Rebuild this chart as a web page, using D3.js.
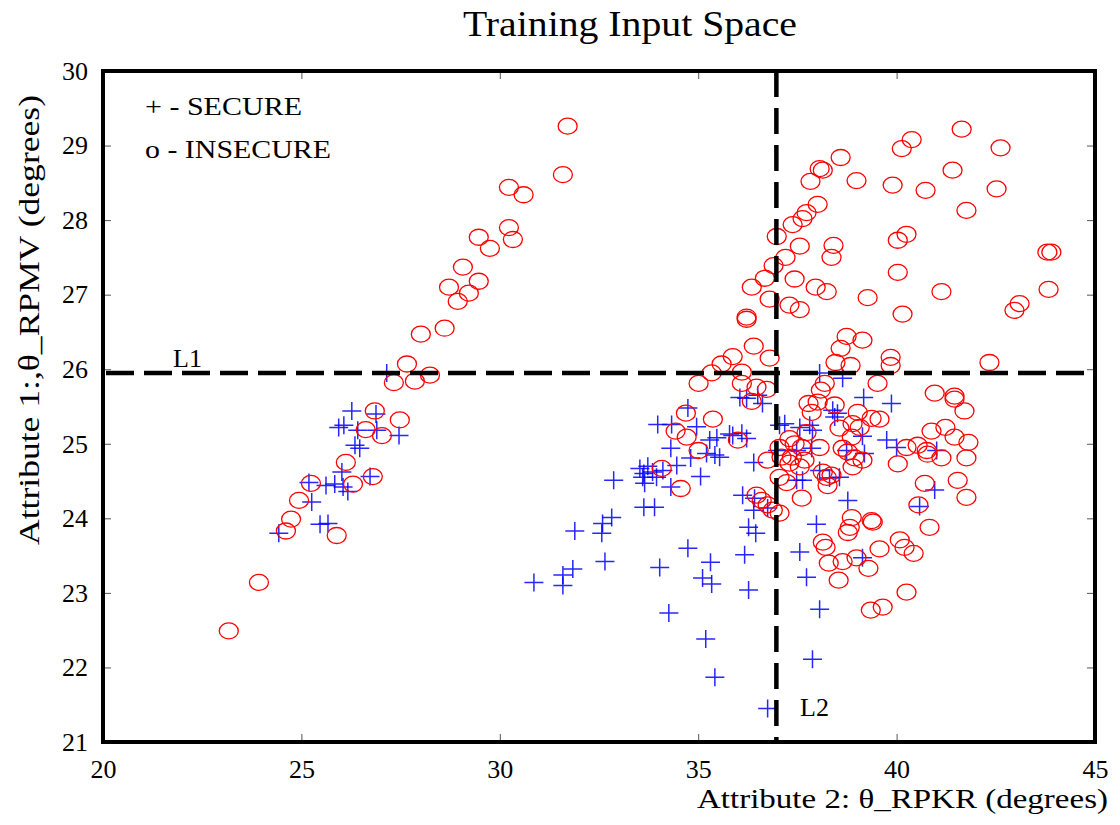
<!DOCTYPE html>
<html>
<head>
<meta charset="utf-8">
<script src="https://cdn.jsdelivr.net/npm/d3@7"></script>
<style>
  html, body { margin: 0; padding: 0; background: #fff; }
  svg { display: block; }
  text { font-family: "Liberation Serif", "Times New Roman", serif; fill: #000; }
</style>
</head>
<body>
<svg id="chart" width="1120" height="825"></svg>
<script>
// ---- data ----
const chartTitle = "Training Input Space";
const xLabel = "Attribute 2: \u03B8_RPKR (degrees)";
const yLabel = "Attribute 1:,\u03B8_RPMV (degrees)";
const xTicks = [20, 25, 30, 35, 40, 45];
const yTicks = [21, 22, 23, 24, 25, 26, 27, 28, 29, 30];
const lineL1 = 25.95;   // horizontal boundary (theta_RPMV)
const lineL2 = 36.97;   // vertical boundary (theta_RPKR)
const legendLabels = ["+ - SECURE", "o - INSECURE"];

// SECURE points [theta_RPKR, theta_RPMV]
const secure = [
  [27.15,25.95],[26.27,25.44],[26.88,25.40],[25.94,25.22],[26.07,25.25],[26.42,25.18],[26.90,25.18],
  [27.46,25.11],[26.35,24.98],[26.47,24.94],[26.02,24.62],[26.73,24.56],[25.19,24.48],[25.62,24.44],
  [25.84,24.46],[26.05,24.42],[26.17,24.36],[25.26,24.22],[25.47,23.92],[25.67,23.93],[24.43,23.80],
  [30.86,23.14],[31.59,23.24],[31.84,23.32],[31.59,23.10],[31.89,23.83],[32.59,23.93],[32.82,24.01],
  [32.57,23.80],[32.65,23.42],[32.87,24.51],[33.63,24.15],[33.90,24.15],[34.03,23.34],[34.26,22.73],
  [34.74,23.60],[35.31,23.41],[35.11,23.20],[35.34,23.12],[35.19,22.38],[35.42,21.87],[36.75,21.45],
  [36.17,23.51],[36.27,23.04],[36.27,23.88],[36.45,23.80],[36.40,24.11],[36.40,24.75],
  [35.06,24.56],[34.31,24.42],[34.31,24.94],[33.98,25.26],[34.33,25.26],[34.74,25.48],[34.96,25.23],
  [34.81,24.81],[33.53,24.67],[33.63,24.60],[33.73,24.70],[33.85,24.62],[33.60,24.55],[33.65,24.47],
  [33.95,24.55],[34.11,24.64],[34.46,24.71],[35.29,25.05],[35.47,25.08],[35.21,24.87],[35.42,24.85],
  [35.54,24.82],[35.79,25.13],[36.10,25.14],[36.22,25.07],[36.22,25.61],[36.50,25.65],[36.62,25.54],
  [36.05,25.62],[38.06,25.95],[38.64,25.88],[38.39,25.45],[38.51,25.41],[38.44,25.36],[39.17,25.62],
  [39.87,25.54],[37.18,25.27],[37.05,25.25],[37.56,25.22],[37.81,25.25],[37.88,25.18],[35.87,25.11],
  [39.14,25.10],[37.00,24.91],[37.48,24.91],[37.86,24.94],[38.74,24.91],[39.75,25.05],[40.00,24.95],
  [39.19,24.87],[41.01,24.91],[37.48,24.51],[37.63,24.51],[38.31,24.54],[38.56,24.55],[38.06,24.64],
  [36.12,24.31],[36.42,24.27],[36.75,24.14],[38.77,24.24],[37.98,23.92],[37.56,23.55],[37.73,23.21],
  [38.06,22.78],[37.88,22.11],[39.14,23.47],[40.96,24.38],[40.58,24.16]
];

// INSECURE points [theta_RPKR, theta_RPMV]
const insecure = [
  [23.17,22.49],[23.93,23.14],[24.61,23.83],[24.74,23.99],[24.94,24.24],[25.24,24.47],[25.89,23.77],
  [26.12,24.75],[26.30,24.46],[26.80,24.56],[26.62,25.19],[26.85,25.44],[27.03,25.11],[27.48,25.32],
  [27.33,25.82],[27.66,26.07],[27.86,25.84],[28.24,25.92],
  [31.71,29.26],[31.59,28.61],[30.23,28.44],[30.60,28.34],[30.23,27.90],[30.33,27.74],[29.47,27.77],
  [29.75,27.62],[29.07,27.37],[29.47,27.18],[28.72,27.10],[29.22,27.02],[28.94,26.91],[28.61,26.55],
  [28.01,26.47],
  [41.64,29.22],[40.38,29.08],[40.13,28.96],[42.62,28.97],[38.59,28.84],[38.06,28.69],[38.14,28.67],
  [37.83,28.52],[38.99,28.53],[39.90,28.47],[40.73,28.40],[41.41,28.67],[42.52,28.42],[41.76,28.13],
  [38.01,28.21],[37.73,28.10],[37.63,28.02],[37.38,27.94],[36.98,27.78],[37.56,27.65],[38.41,27.66],
  [38.36,27.50],[40.25,27.81],[40.03,27.73],[37.20,27.50],[36.90,27.39],[36.68,27.22],[37.43,27.21],
  [36.35,27.10],[36.80,26.94],[37.96,27.10],[38.24,27.04],[39.27,26.96],[40.03,27.30],[41.13,27.04],
  [43.80,27.57],[43.90,27.57],[43.83,27.07],[43.10,26.88],[42.97,26.79],[40.15,26.74],[37.30,26.86],
  [37.56,26.80],[36.22,26.70],[36.22,26.67],[38.74,26.44],[39.14,26.39],[38.59,26.28],[36.40,26.31],
  [36.80,26.15],[35.87,26.17],[35.59,26.07],[35.34,25.95],[36.10,25.96],[35.01,25.81],[36.10,25.81],
  [38.46,26.09],[38.84,26.05],[39.85,26.16],[39.85,26.05],[42.34,26.09],[39.52,25.81],[40.96,25.68],
  [41.46,25.64],[41.46,25.60],[41.71,25.44],[38.19,25.81],[38.09,25.72],[36.47,25.76],[36.73,25.73],
  [36.35,25.57],[37.78,25.54],[38.01,25.56],[38.44,25.52],[37.86,25.42],[39.02,25.42],[39.37,25.34],
  [38.89,25.27],[38.56,25.21],[39.07,25.22],[38.87,25.09],[37.73,25.15],[37.30,25.07],[37.43,25.00],
  [37.05,24.95],[37.61,24.95],[38.06,24.95],[38.64,24.94],[38.77,24.89],[38.94,24.81],[36.00,25.05],
  [36.75,24.78],[37.10,24.82],[37.36,24.82],[37.30,24.74],[37.68,24.78],[37.56,24.69],[38.89,24.69],
  [37.05,24.55],[37.23,24.48],[38.14,24.62],[38.24,24.55],[38.36,24.58],[38.26,24.44],[37.61,24.27],
  [36.47,24.31],[36.60,24.24],[36.75,24.18],[36.88,24.11],[37.05,24.07],[38.87,24.01],[39.37,23.97],
  [38.82,23.88],[39.57,25.33],[40.88,25.17],[41.23,25.22],[41.46,25.09],[41.81,25.02],[40.25,24.95],
  [40.53,24.98],[40.76,24.91],[40.78,24.86],[41.13,24.81],[41.76,24.81],[40.03,24.73],[39.14,24.78],
  [40.71,24.47],[41.54,24.51],[41.76,24.28],[40.55,24.18],[39.40,23.95],[40.83,23.88],[38.77,23.81],
  [38.14,23.68],[38.21,23.61],[38.29,23.40],[38.64,23.42],[38.99,23.47],[39.29,23.33],[39.57,23.59],
  [40.08,23.71],[40.20,23.61],[40.43,23.53],[38.54,23.17],[40.25,23.01],[39.35,22.77],[39.65,22.81],
  [34.69,25.41],[35.37,25.33],[34.43,25.17],[34.71,25.09],[35.01,24.91],[34.08,24.67],[34.56,24.40]
];

// ---- layout ----
const svg = d3.select("#chart");
const plotLeft = 103, plotRight = 1095, plotTop = 71, plotBottom = 742;
const x = d3.scaleLinear().domain([20, 45]).range([plotLeft, plotRight]);
const y = d3.scaleLinear().domain([21, 30]).range([plotBottom, plotTop]);

// title
svg.append("text").attr("x", 630).attr("y", 36).attr("text-anchor", "middle")
  .attr("font-size", 36).attr("textLength", 334).attr("lengthAdjust", "spacingAndGlyphs")
  .text(chartTitle);

// axes with inward ticks
const tickStyle = g => {
  g.select(".domain").remove();
  g.selectAll(".tick line").attr("stroke", "#555").attr("stroke-width", 1);
  g.selectAll(".tick text").attr("font-family", "Liberation Serif, serif").attr("font-size", 26).attr("fill", "#000");
};
svg.append("g").attr("transform", `translate(0,${plotBottom})`)
  .call(d3.axisBottom(x).tickValues(xTicks).tickFormat(d3.format("d")).tickSize(-8).tickPadding(18))
  .call(tickStyle);
svg.append("g").attr("transform", `translate(0,${plotTop})`)
  .call(d3.axisTop(x).tickValues(xTicks).tickFormat("").tickSize(-8))
  .call(tickStyle);
svg.append("g").attr("transform", `translate(${plotLeft},0)`)
  .call(d3.axisLeft(y).tickValues(yTicks).tickFormat(d3.format("d")).tickSize(-8).tickPadding(15))
  .call(tickStyle);
svg.append("g").attr("transform", `translate(${plotRight},0)`)
  .call(d3.axisRight(y).tickValues(yTicks).tickFormat("").tickSize(-8))
  .call(tickStyle);

// markers
const plot = svg.append("g");
const plusR = 9.5, plusV = 9;
const plusG = plot.append("g").attr("stroke", "#0000ff").attr("stroke-width", 1.5).attr("stroke-opacity", 0.85);
plusG.selectAll("path").data(secure).join("path")
  .attr("d", d => {
    const px = x(d[0]), py = y(d[1]);
    return `M${px - plusR},${py}H${px + plusR}M${px},${py - plusV}V${py + plusV}`;
  });
plot.append("g").attr("fill", "none").attr("stroke", "#ff0000").attr("stroke-width", 1.3)
  .selectAll("ellipse").data(insecure).join("ellipse")
  .attr("cx", d => x(d[0])).attr("cy", d => y(d[1])).attr("rx", 9.5).attr("ry", 8);

// dashed boundary lines
svg.append("line").attr("x1", plotLeft + 3).attr("x2", plotRight).attr("y1", y(lineL1)).attr("y2", y(lineL1))
  .attr("stroke", "#000").attr("stroke-width", 4.5).attr("stroke-dasharray", "28,10");
svg.append("line").attr("x1", x(lineL2)).attr("x2", x(lineL2)).attr("y1", plotTop).attr("y2", plotBottom)
  .attr("stroke", "#000").attr("stroke-width", 4.5).attr("stroke-dasharray", "26,11");

// frame
svg.append("rect").attr("x", plotLeft).attr("y", plotTop).attr("width", plotRight - plotLeft).attr("height", plotBottom - plotTop)
  .attr("fill", "none").attr("stroke", "#000").attr("stroke-width", 4);

// line labels
svg.append("text").attr("x", 173).attr("y", 367).attr("font-size", 26).text("L1");
svg.append("text").attr("x", 800).attr("y", 716).attr("font-size", 26).text("L2");

// legend
svg.append("text").attr("x", 145).attr("y", 115).attr("font-size", 26)
  .attr("textLength", 157).attr("lengthAdjust", "spacingAndGlyphs").text(legendLabels[0]);
svg.append("text").attr("x", 145).attr("y", 158).attr("font-size", 26)
  .attr("textLength", 186).attr("lengthAdjust", "spacingAndGlyphs").text(legendLabels[1]);

// axis labels
svg.append("text").attr("x", 1108).attr("y", 808).attr("text-anchor", "end").attr("font-size", 28)
  .attr("textLength", 411).attr("lengthAdjust", "spacingAndGlyphs").text(xLabel);
svg.append("text").attr("transform", "translate(39,320) rotate(-90)").attr("text-anchor", "middle")
  .attr("font-size", 30).attr("textLength", 450).attr("lengthAdjust", "spacingAndGlyphs").text(yLabel);
</script>
</body>
</html>
